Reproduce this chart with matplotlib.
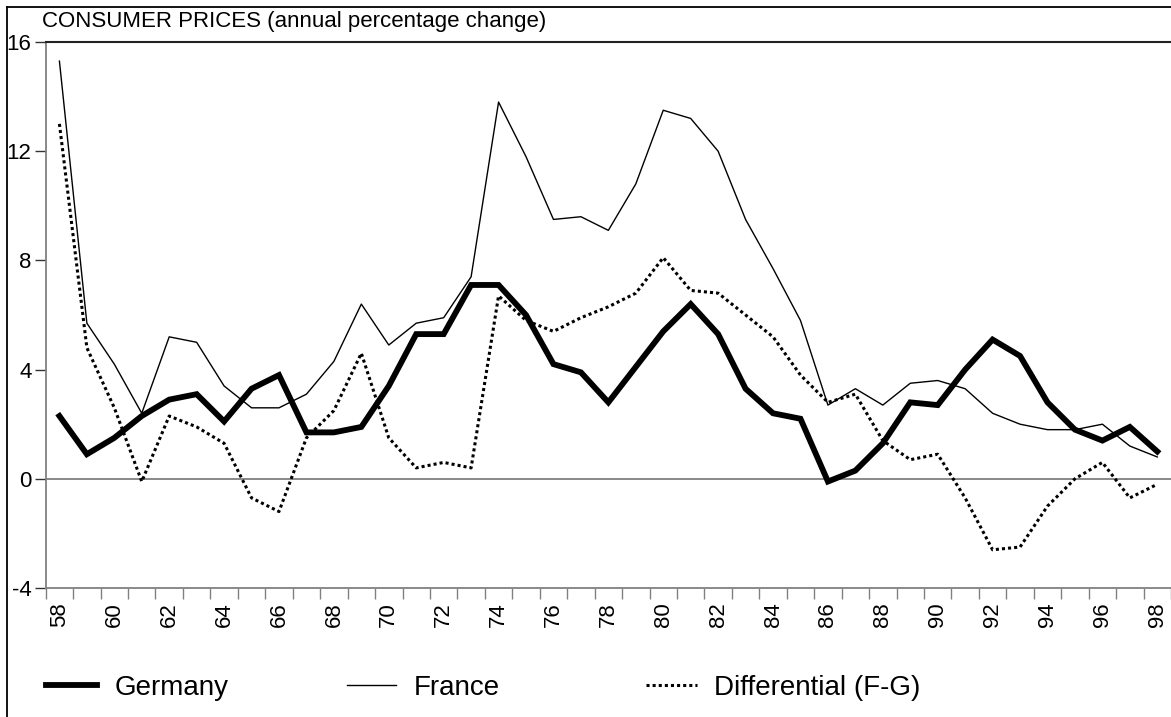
import numpy as np
import matplotlib
matplotlib.use("Agg")
import matplotlib.pyplot as plt
from matplotlib.lines import Line2D

plt.rcParams['font.family'] = ['Liberation Sans', 'DejaVu Sans']

# consumer prices, annual % change, 1958-1998
years = list(range(58, 99))
germany = [2.3, 0.9, 1.5, 2.3, 2.9, 3.1, 2.1, 3.3, 3.8, 1.7,
           1.7, 1.9, 3.4, 5.3, 5.3, 7.1, 7.1, 6.0, 4.2, 3.9,
           2.8, 4.1, 5.4, 6.4, 5.3, 3.3, 2.4, 2.2, -0.1, 0.3,
           1.3, 2.8, 2.7, 4.0, 5.1, 4.5, 2.8, 1.8, 1.4, 1.9,
           1.0]
france = [15.3, 5.7, 4.2, 2.4, 5.2, 5.0, 3.4, 2.6, 2.6, 3.1,
          4.3, 6.4, 4.9, 5.7, 5.9, 7.4, 13.8, 11.8, 9.5, 9.6,
          9.1, 10.8, 13.5, 13.2, 12.0, 9.5, 7.7, 5.8, 2.7, 3.3,
          2.7, 3.5, 3.6, 3.3, 2.4, 2.0, 1.8, 1.8, 2.0, 1.2,
          0.8]
differential = [13.0, 4.8, 2.6, -0.1, 2.3, 1.9, 1.3, -0.7, -1.2, 1.5,
                2.5, 4.6, 1.5, 0.4, 0.6, 0.4, 6.7, 5.8, 5.4, 5.9,
                6.3, 6.8, 8.1, 6.9, 6.8, 6.0, 5.2, 3.8, 2.8, 3.1,
                1.4, 0.7, 0.9, -0.7, -2.6, -2.5, -1.0, 0.0, 0.6, -0.7,
                -0.2]
y_ticks = [-4, 0, 4, 8, 12, 16]
x_labels = [str(y) for y in range(58, 99, 2)]

W, H = 1171, 717
fig = plt.figure(figsize=(W / 100, H / 100), dpi=100)
fig.patch.set_facecolor('white')

# axes box in pixels
left, right, top, bottom = 45.7, 1171, 42, 588
ax = fig.add_axes([left / W, 1 - bottom / H, (right - left) / W, (bottom - top) / H])
step = 27.625
ax.set_xlim(57.5, 57.5 + (right - left) / step)
ax.set_ylim(-4, 16)

grey = '#808080'
ax.axhline(0, color=grey, lw=1.3, zorder=1)

l_ger, = ax.plot(years, germany, color='black', lw=4.2, solid_joinstyle='miter', zorder=4)
l_fra, = ax.plot(years, france, color='black', lw=1.0, zorder=3)
l_dif, = ax.plot(years, differential, color='black', lw=2.2, linestyle=(0, (1, 1)), zorder=3)

ax.spines['right'].set_visible(False)
ax.spines['left'].set_color(grey)
ax.spines['bottom'].set_color(grey)
ax.spines['left'].set_linewidth(1.3)
ax.spines['bottom'].set_linewidth(1.3)
ax.spines['top'].set_color('#222222')
ax.spines['top'].set_linewidth(1.5)

ax.set_yticks(y_ticks)
ax.set_yticklabels([str(v) for v in y_ticks], fontsize=16)
ax.tick_params(axis='y', length=7.7, width=1.0, color='#333333', pad=2.5)

ax.set_xticks(range(58, 99, 2))
ax.set_xticklabels(x_labels, rotation=90, fontsize=16)
ax.set_xticks(np.arange(57.5, 99, 1), minor=True)
ax.tick_params(axis='x', which='major', length=0, pad=10)
ax.tick_params(axis='x', which='minor', length=8, width=1.0, color=grey)

# outer frame (top and left edges)
fig.add_artist(Line2D([7 / W, 1], [1 - 7 / H] * 2, transform=fig.transFigure, color='black', lw=1.3))
fig.add_artist(Line2D([7 / W] * 2, [0, 1 - 7 / H], transform=fig.transFigure, color='black', lw=1.3))

fig.text(42 / W, 1 - 21 / H, 'CONSUMER PRICES (annual percentage change)', fontsize=16,
         ha='left', va='center')

# legend entries placed one by one
leg_items = [(l_ger, 'Germany', 46, 1.83), (l_fra, 'France', 347, 1.76), (l_dif, 'Differential (F-G)', 646, 1.83)]
for handle, label, xpix, hl in leg_items:
    lg = fig.legend(handles=[handle], labels=[label], loc='center left',
                    bbox_to_anchor=(xpix / W, 1 - 688 / H), frameon=False,
                    fontsize=20, handlelength=hl, handletextpad=0.63,
                    borderpad=0, borderaxespad=0)

fig.savefig('out.png', dpi=100, facecolor='white')
